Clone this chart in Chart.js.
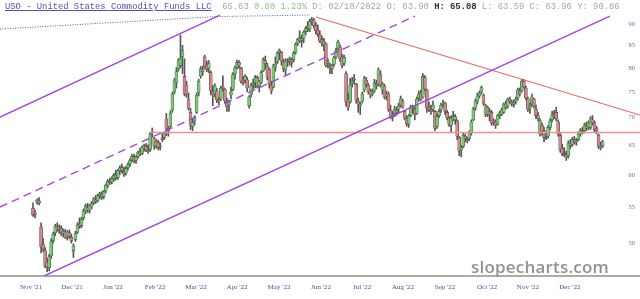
<!DOCTYPE html>
<html>
<head>
<meta charset="utf-8">
<script src="https://cdn.jsdelivr.net/npm/chart.js@4.4.1/dist/chart.umd.min.js"></script>
<style>
  html, body { margin: 0; padding: 0; background: #fff; }
  #wrap { position: relative; width: 640px; height: 299px; overflow: hidden; }
  #chart { position: absolute; left: 0; top: 0; }
  #hdr {
    position: absolute; left: 5px; top: 1px; white-space: pre;
    font: 8.83px "Liberation Mono", "Courier New", monospace; line-height: 12px; color: #a6a6a6;
  }
  #hdr .name { color: #5252b8; text-decoration: underline; }
  #hdr .chg  { color: #8cc28c; }
  #hdr .hi   { color: #333; font-weight: bold; }
  #mark {
    position: absolute; left: 471px; top: 255px;
    font: 600 17px "Open Sans", "Liberation Sans", sans-serif; color: #929292; letter-spacing: 0.2px;
  }
</style>
</head>
<body>
<div id="wrap">
  <canvas id="chart" width="640" height="299"></canvas>
  <div id="hdr"><span class="name">USO - United States Commodity Funds LLC</span>  65.63 <span class="chg">0.80 1.23%</span> D: 02/10/2022 O: 63.90 <span class="hi">H: 65.08</span> L: 63.59 C: 63.96 Y: 90.86</div>
  <div id="mark">slopecharts.com</div>
</div>
<script>
'use strict';

// ─── Daily candles, Nov '21 → Jan '23 (one entry per session) ────────────────
const OPENS = [
  54.9, 54.0, 55.8, 56.0, 52.2, 49.8, 49.0, 47.5, 46.8, 48.3, 50.3, 51.4, 52.2, 51.9, 52.0, 51.3, 51.5, 50.9, 51.4, 50.8,
  49.0, 50.5, 51.5, 52.6, 52.4, 53.5, 54.5, 55.0, 54.6, 55.2, 55.8, 56.2, 56.0, 56.8, 57.0, 56.6, 57.5, 58.4, 59.0, 58.9,
  59.4, 60.0, 59.6, 60.7, 61.2, 60.6, 60.3, 61.2, 61.8, 62.5, 63.0, 62.4, 63.1, 63.9, 63.6, 64.5, 64.8, 63.90, 64.3, 67.2,
  66.2, 64.9, 65.5, 64.8, 66.3, 66.4, 69.8, 68.0, 68.4, 71.5, 75.0, 76.9, 79.8, 80.5, 82.5, 78.2, 76.4, 73.6, 71.0, 68.4,
  69.4, 71.0, 74.9, 78.3, 79.6, 82.4, 80.6, 79.9, 79.0, 75.0, 74.6, 75.2, 73.2, 73.6, 76.0, 75.5, 73.0, 72.4, 74.4, 75.5,
  78.7, 80.2, 81.2, 79.9, 77.4, 77.4, 77.5, 72.3, 74.5, 76.4, 76.9, 78.0, 76.2, 77.0, 79.4, 81.6, 80.4, 79.7, 76.4, 76.0,
  80.2, 81.4, 83.5, 83.4, 81.3, 79.6, 81.5, 81.5, 81.8, 81.8, 83.4, 85.5, 86.8, 86.1, 86.6, 88.2, 89.6, 88.8, 90.6, 91.0,
  89.6, 88.6, 87.5, 86.3, 85.2, 85.4, 81.0, 80.4, 79.8, 80.8, 82.4, 84.2, 84.6, 82.4, 81.0, 78.8, 73.4, 73.0, 76.8, 77.4,
  76.6, 73.2, 72.4, 73.2, 75.4, 77.4, 76.4, 75.2, 74.6, 75.2, 76.6, 76.5, 78.6, 75.4, 76.2, 74.2, 74.6, 71.4, 70.2, 70.8,
  71.4, 71.6, 72.4, 73.2, 71.2, 69.8, 68.8, 70.4, 72.0, 71.6, 70.8, 73.8, 74.8, 74.0, 78.0, 75.4, 72.0, 71.4, 71.6, 71.2,
  68.4, 70.4, 71.6, 72.6, 72.8, 71.0, 69.8, 68.6, 70.2, 69.6, 69.4, 66.4, 64.2, 64.8, 66.6, 66.0, 66.2, 67.2, 69.6, 71.8,
  73.2, 74.2, 75.0, 74.4, 70.6, 72.0, 70.6, 71.0, 69.4, 69.2, 68.8, 70.4, 70.6, 71.0, 72.6, 72.2, 73.6, 73.0, 72.6, 73.2,
  73.8, 75.2, 75.2, 77.2, 75.8, 73.6, 71.8, 72.6, 73.6, 71.6, 70.4, 67.0, 68.6, 67.6, 66.6, 66.6, 68.2, 69.6, 70.6, 71.0,
  69.2, 66.8, 64.4, 63.6, 63.4, 63.2, 65.4, 65.2, 66.0, 65.6, 66.0, 67.0, 67.6, 67.6, 68.4, 68.2, 68.2, 69.6, 69.0, 68.0,
  66.8, 64.8, 64.9
];
const HIGHS = [
  55.7, 54.6, 56.3, 56.5, 52.8, 50.6, 49.4, 48.0, 48.5, 50.6, 51.5, 52.6, 52.8, 52.5, 52.4, 51.9, 51.9, 51.7, 51.8, 51.2,
  49.9, 51.6, 52.8, 53.5, 53.6, 54.8, 55.5, 55.6, 55.5, 55.9, 56.5, 56.8, 57.0, 57.3, 57.4, 57.6, 58.6, 59.3, 59.5, 59.7,
  60.3, 60.8, 60.9, 61.5, 61.8, 61.3, 61.4, 62.0, 62.7, 63.4, 63.5, 63.2, 64.0, 64.5, 64.9, 65.2, 65.3, 65.08, 67.3, 68.1,
  66.4, 66.0, 65.9, 65.4, 67.2, 67.4, 70.8, 68.4, 71.3, 75.0, 77.8, 80.1, 82.0, 87.4, 85.0, 82.0, 77.2, 74.8, 71.8, 69.8,
  70.4, 74.8, 77.6, 80.3, 80.4, 82.8, 81.5, 81.6, 79.4, 76.3, 76.7, 75.7, 73.9, 76.2, 78.3, 75.7, 73.8, 73.4, 76.0, 79.0,
  80.4, 81.7, 81.6, 80.2, 78.2, 78.6, 78.0, 74.3, 76.8, 77.6, 78.4, 78.3, 77.4, 79.4, 82.2, 82.6, 81.0, 80.0, 77.2, 80.8,
  82.4, 83.6, 84.2, 83.6, 81.9, 82.0, 82.0, 82.4, 82.2, 83.6, 85.6, 86.6, 88.4, 87.4, 88.4, 89.4, 90.6, 91.2, 91.6, 91.4,
  90.4, 89.8, 88.4, 87.2, 86.6, 85.6, 82.0, 81.0, 80.8, 82.6, 84.4, 86.2, 85.1, 83.0, 82.8, 79.2, 74.8, 77.8, 78.0, 78.6,
  76.8, 73.8, 73.0, 75.0, 78.2, 78.0, 76.8, 75.6, 75.6, 77.6, 77.4, 80.0, 79.4, 77.0, 76.6, 75.2, 75.0, 72.4, 71.2, 72.2,
  72.0, 72.8, 74.2, 73.6, 71.4, 70.4, 70.6, 72.4, 72.4, 72.0, 74.0, 75.2, 75.4, 78.8, 78.4, 75.6, 73.0, 72.4, 73.2, 71.4,
  70.8, 71.6, 72.8, 73.4, 73.0, 71.4, 70.2, 70.4, 71.2, 70.6, 69.6, 66.6, 65.0, 67.2, 67.0, 66.4, 67.6, 69.6, 72.0, 73.6,
  74.8, 75.2, 76.2, 74.6, 72.6, 72.2, 71.8, 71.4, 69.8, 69.6, 70.6, 71.2, 71.8, 72.8, 73.2, 73.8, 74.0, 73.4, 73.4, 74.0,
  75.8, 75.8, 77.6, 77.6, 76.2, 74.0, 72.8, 74.6, 73.8, 72.4, 71.0, 69.8, 69.0, 68.2, 67.4, 68.6, 69.8, 71.2, 71.4, 72.0,
  69.6, 67.2, 65.2, 64.6, 64.0, 65.8, 66.0, 66.4, 66.6, 66.2, 67.4, 68.0, 68.2, 69.0, 69.2, 69.4, 70.2, 70.4, 69.4, 68.4,
  67.0, 65.6, 65.9
];
const LOWS = [
  53.7, 53.5, 55.5, 55.4, 48.7, 48.9, 46.8, 46.3, 46.4, 48.0, 50.0, 51.0, 51.6, 51.3, 51.0, 50.8, 50.6, 50.4, 50.6, 50.0,
  48.1, 50.2, 51.3, 52.0, 52.1, 53.2, 54.1, 54.3, 54.2, 54.8, 55.4, 55.6, 55.8, 56.3, 56.2, 56.3, 57.2, 58.0, 58.5, 58.6,
  59.0, 59.2, 59.3, 60.1, 60.4, 59.8, 60.0, 60.8, 61.4, 62.2, 62.0, 61.9, 62.8, 63.2, 63.4, 64.0, 63.9, 63.59, 64.0, 66.4,
  64.3, 64.5, 64.2, 64.2, 65.6, 66.0, 66.7, 66.6, 68.2, 71.0, 74.6, 75.8, 79.3, 80.0, 78.8, 74.2, 73.9, 71.4, 67.8, 67.6,
  68.6, 70.8, 74.2, 77.8, 78.4, 79.8, 79.2, 79.0, 74.4, 72.3, 74.0, 72.9, 72.5, 73.3, 75.1, 72.8, 71.2, 71.2, 73.6, 75.2,
  77.6, 79.8, 79.9, 76.8, 76.4, 76.8, 75.0, 71.8, 74.0, 75.6, 75.8, 75.8, 75.0, 76.7, 79.2, 79.8, 77.5, 75.8, 74.6, 75.8,
  79.3, 80.9, 81.8, 80.6, 79.2, 78.6, 80.3, 80.6, 80.2, 81.3, 83.0, 84.9, 85.6, 84.6, 85.6, 87.4, 88.2, 88.2, 89.8, 89.0,
  87.6, 87.0, 85.6, 84.8, 83.8, 80.2, 80.0, 78.8, 78.8, 80.4, 82.0, 83.9, 81.4, 80.0, 80.5, 72.2, 71.4, 72.8, 76.0, 76.6,
  72.8, 71.0, 70.6, 72.8, 75.0, 76.0, 74.6, 73.8, 74.2, 74.9, 75.6, 76.2, 76.0, 74.6, 73.6, 73.4, 71.2, 69.8, 69.4, 70.2,
  70.4, 70.8, 72.0, 71.8, 69.6, 68.4, 68.2, 70.2, 70.8, 69.6, 70.6, 73.2, 73.2, 73.8, 75.2, 71.0, 71.2, 70.6, 71.2, 67.6,
  68.0, 70.0, 71.0, 72.0, 70.6, 69.6, 68.4, 67.4, 69.4, 68.8, 66.0, 63.2, 63.0, 64.6, 65.6, 65.4, 65.8, 66.8, 69.4, 71.4,
  72.6, 73.8, 74.6, 72.4, 70.2, 70.2, 69.4, 68.6, 68.6, 68.0, 68.6, 69.8, 70.4, 70.8, 71.6, 71.8, 72.8, 72.2, 72.0, 72.6,
  73.4, 74.2, 75.0, 75.8, 73.4, 71.2, 70.8, 72.2, 71.8, 69.8, 69.4, 66.6, 66.8, 65.6, 66.0, 66.2, 67.8, 69.2, 69.8, 69.4,
  66.6, 63.8, 63.2, 63.0, 62.4, 62.8, 64.4, 64.8, 65.2, 65.0, 65.8, 66.6, 67.0, 67.2, 67.6, 67.8, 67.8, 68.6, 67.4, 67.0,
  64.4, 64.2, 64.6
];
const CLOSES = [
  53.9, 54.2, 56.1, 55.7, 49.5, 49.2, 47.0, 46.9, 48.2, 50.2, 51.2, 52.3, 51.9, 52.1, 51.4, 51.6, 50.8, 51.5, 50.9, 50.3,
  49.6, 51.3, 52.5, 52.3, 53.3, 54.5, 55.2, 54.6, 55.3, 55.6, 56.3, 55.9, 56.8, 57.1, 56.6, 57.4, 58.4, 59.0, 58.8, 59.4,
  60.0, 59.5, 60.7, 61.2, 60.8, 60.2, 61.1, 61.7, 62.4, 63.1, 62.3, 63.0, 63.8, 63.5, 64.6, 64.9, 64.1, 63.96, 66.9, 67.4,
  64.8, 65.7, 64.6, 64.9, 66.0, 67.1, 67.9, 67.6, 70.8, 74.6, 77.3, 79.2, 81.6, 82.1, 83.8, 74.6, 74.5, 71.8, 68.6, 69.1,
  69.8, 74.4, 77.2, 79.8, 79.2, 80.2, 79.7, 81.0, 75.3, 74.4, 76.2, 73.4, 73.5, 75.8, 75.7, 73.2, 72.1, 72.9, 75.0, 78.6,
  80.0, 81.2, 80.6, 77.2, 76.9, 78.2, 75.8, 74.0, 76.3, 76.8, 78.0, 76.2, 77.2, 79.0, 81.8, 80.9, 78.0, 76.6, 75.2, 80.4,
  80.8, 83.2, 83.9, 81.5, 79.8, 81.5, 81.3, 81.9, 81.2, 83.2, 85.2, 86.4, 86.0, 86.6, 88.1, 88.9, 89.1, 90.7, 91.0, 89.6,
  88.4, 87.6, 86.0, 85.5, 85.9, 80.6, 81.4, 80.0, 80.4, 82.2, 83.8, 85.7, 82.0, 80.6, 82.3, 73.0, 72.0, 76.4, 77.2, 77.6,
  73.4, 72.6, 72.6, 74.6, 77.7, 76.6, 75.0, 74.4, 75.0, 76.8, 76.2, 79.6, 76.4, 76.6, 74.0, 74.6, 71.6, 70.0, 70.6, 71.6,
  71.0, 72.2, 73.6, 72.0, 69.9, 68.8, 70.3, 72.0, 71.8, 70.6, 73.6, 74.6, 73.6, 78.2, 75.6, 71.8, 71.6, 71.2, 72.4, 68.0,
  70.2, 71.2, 72.4, 72.8, 71.2, 70.0, 68.8, 70.0, 69.6, 70.2, 66.6, 64.0, 64.6, 66.8, 66.2, 65.8, 67.2, 69.2, 71.6, 73.2,
  74.2, 74.8, 75.9, 72.8, 72.4, 70.6, 71.2, 69.0, 69.2, 68.6, 70.4, 70.8, 71.4, 72.6, 72.0, 73.6, 73.2, 72.6, 72.8, 73.6,
  75.4, 74.6, 77.2, 76.0, 73.8, 71.6, 72.2, 74.0, 72.2, 70.4, 69.8, 69.4, 67.4, 66.4, 66.8, 68.2, 69.4, 70.6, 70.2, 69.8,
  67.0, 64.2, 63.6, 63.4, 63.0, 65.4, 65.0, 66.0, 65.6, 65.8, 67.0, 67.6, 67.4, 68.6, 68.0, 69.0, 69.8, 69.0, 67.8, 67.6,
  64.8, 64.83, 65.63
];

// ─── Axis labels ─────────────────────────────────────────────────────────────
const MONTH_LABELS = ["Nov '21", "Dec '21", "Jan '22", "Feb '22", "Mar '22", "Apr '22", "May '22",
                      "Jun '22", "Jul '22", "Aug '22", "Sep '22", "Oct '22", "Nov '22", "Dec '22"];
const MONTH_TICKS  = [-1.0, 19.3, 39.6, 60.4, 80.7, 101.0, 121.8, 142.6, 162.9, 183.2, 204.0, 224.8, 245.0, 265.8];
const PRICE_TICKS  = [50, 55, 60, 65, 70, 75, 80, 85, 90];

// ─── Drawn trend lines: [session index, price] ───────────────────────────────
const TOP_DOTTED   = [[-16.34, 88.8], [91.1, 91.83], [137.1, 92.2]];
const CHANNEL_HIGH = [[-16.34, 70.12], [92.6, 92.2]];
const CHANNEL_MID  = [[-16.34, 55.07], [189.1, 91.96]];
const CHANNEL_LOW  = [[5.45, 45.77], [285.6, 91.96]];
const DOWN_TREND   = [[140.1, 91.7], [300.5, 70.5]];
const SUPPORT      = [[57.9, 67.27], [300.5, 67.27]];

// visible window
const X_MIN = -16.34, X_MAX = 300.5;
const Y_MIN = 45.77,  Y_MAX = 96.0;

const UP   = { fill: '#7dc67d', edge: '#2e6a2e' };
const DOWN = { fill: '#c88c8c', edge: '#6e3c3c' };
const PURPLE = '#a546e2';

const isUp = i => CLOSES[i] >= OPENS[i];
const pts  = arr => arr.map(([x, y]) => ({ x, y }));

function trend(data, color, width, dash) {
  return {
    type: 'line', data: pts(data), order: 0,
    borderColor: color, borderWidth: width, borderDash: dash || [],
    pointRadius: 0, fill: false, tension: 0,
  };
}

// no edge padding: plot runs from canvas top to the axis line
function noPad(s) {
  s.paddingTop = 0; s.paddingBottom = 0; s.paddingLeft = 0; s.paddingRight = 0;
}

new Chart(document.getElementById('chart'), {
  type: 'bar',
  data: {
    datasets: [
      {
        data: HIGHS.map((h, i) => ({ x: i, y: [LOWS[i], h] })),
        backgroundColor: '#555', barThickness: 1, grouped: false, order: 3,
      },
      {
        data: OPENS.map((o, i) => ({ x: i, y: [o, CLOSES[i]] })),
        backgroundColor: OPENS.map((o, i) => isUp(i) ? UP.fill : DOWN.fill),
        borderColor: OPENS.map((o, i) => isUp(i) ? UP.edge : DOWN.edge),
        borderWidth: 0.6, borderSkipped: false,
        barThickness: 3, grouped: false, order: 2,
      },
      trend(TOP_DOTTED,   '#4b55b4', 1, [1, 1.5]),
      trend(CHANNEL_HIGH, PURPLE, 1.4),
      trend(CHANNEL_MID,  PURPLE, 1.4, [8, 5]),
      trend(CHANNEL_LOW,  PURPLE, 1.4),
      trend(DOWN_TREND,   '#ef6464', 1.1),
      trend(SUPPORT,      '#f29090', 1.6),
    ],
  },
  options: {
    responsive: false,
    animation: false,
    layout: { padding: 0 },
    plugins: { legend: { display: false }, tooltip: { enabled: false } },
    scales: {
      x: {
        type: 'linear', min: X_MIN, max: X_MAX, offset: false,
        grid: { display: false, drawTicks: false },
        border: { display: true, color: '#ababab', width: 2 },
        afterBuildTicks: s => { s.ticks = MONTH_TICKS.map(v => ({ value: v })); },
        afterFit: s => { s.height = 23; noPad(s); },
        ticks: {
          autoSkip: false, maxRotation: 0, padding: 7, color: '#4c4c9c',
          font: { family: '"Liberation Serif", serif', size: 7 },
          callback: (v, i) => MONTH_LABELS[i],
        },
      },
      y: {
        type: 'logarithmic', position: 'right', min: Y_MIN, max: Y_MAX,
        grid: { display: false, drawTicks: false },
        border: { display: false },
        afterBuildTicks: s => { s.ticks = PRICE_TICKS.map(v => ({ value: v })); },
        afterFit: s => { s.width = 0; noPad(s); },
        ticks: {
          // mirrored labels sit right-aligned at (axis left + padding)
          mirror: true, padding: -5, color: '#6c6cba',
          font: { family: '"Liberation Serif", serif', size: 6.5 },
          callback: v => String(v),
        },
      },
    },
  },
});
</script>
</body>
</html>
